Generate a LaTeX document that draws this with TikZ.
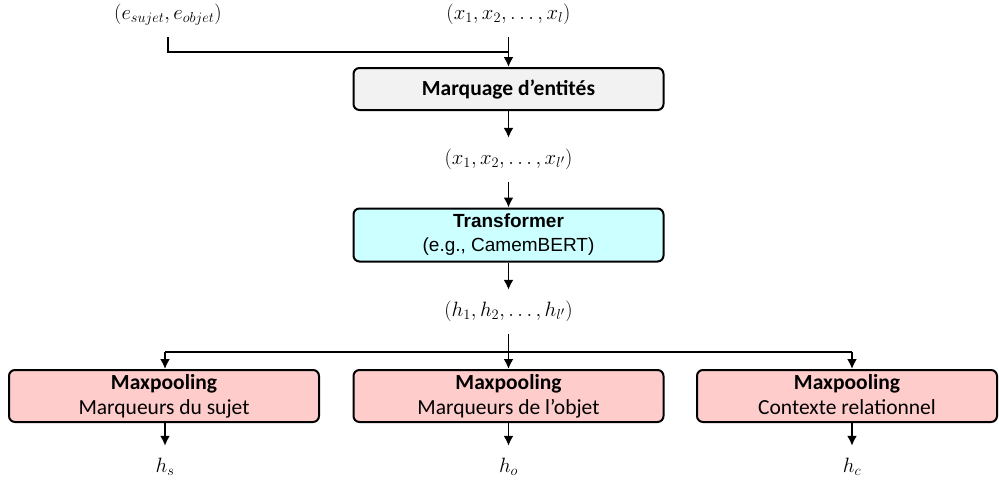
\documentclass[tikz,border=0pt]{standalone}
\usepackage{fontspec}
\setsansfont{Liberation Sans}
\newfontfamily\narrowfont{Carlito}
\usetikzlibrary{arrows.meta}

\definecolor{markgray}{HTML}{F2F2F2}
\definecolor{encblue}{HTML}{CCFFFF}
\definecolor{poolpink}{HTML}{FFCCCC}

\begin{document}
\begin{tikzpicture}[x=1pt, y=-1pt,
    box/.style = {draw=black, line width=2pt, rounded corners=6pt,
      minimum width=310pt, minimum height=42pt, align=center, inner sep=0pt},
    pool/.style = {box, fill=poolpink, minimum height=52pt,
      font=\narrowfont\fontsize{21.5}{25}\selectfont},
    seq/.style = {inner xsep=0pt, inner ysep=12pt, text height=14pt,
      text depth=6pt, font=\huge},
    link/.style = {line width=1.9pt},
    flow/.style = {link, -{Latex[length=10pt,width=10pt]}}
  ]
  \useasboundingbox (0,0) rectangle (999,483);

  % inputs
  \node[seq] (ents) at (168,15) {$(e_{sujet},e_{objet})$};
  \node[seq] (toks) at (508.5,15) {$(x_1,x_2,\dots,x_l)$};
  \coordinate (join) at (508.5,52);

  % marking and encoder
  \node[box, fill=markgray, font=\narrowfont\bfseries\fontsize{21.5}{24}\selectfont]
    (mark) at (508.5,89) {Marquage d’entités};
  \node[seq] (marked) at (508.5,160) {$(x_1,x_2,\dots,x_{l'})$};
  \node[box, fill=encblue, minimum height=53pt,
    font=\sffamily\fontsize{19}{24}\selectfont]
    (enc) at (508.5,235) {\textbf{Transformer}\\(e.g., CamemBERT)};
  \node[seq] (hid) at (508.5,312) {$(h_1,h_2,\dots,h_{l'})$};
  \coordinate (split) at (508.5,352);

  % pooling heads
  \node[pool] (psub) at (164,396) {\textbf{Maxpooling}\\Marqueurs du sujet};
  \node[pool] (pobj) at (508.5,396) {\textbf{Maxpooling}\\Marqueurs de l’objet};
  \node[pool, minimum width=300pt] (pctx) at (847,396)
    {\textbf{Maxpooling}\\Contexte relationnel\vphantom{j}};

  \node[seq] (hs) at (165,468) {$h_s$};
  \node[seq] (ho) at (508.5,468) {$h_o$};
  \node[seq] (hc) at (852,468) {$h_c$};

  % connectors
  \draw[link] (ents.south) |- (join);
  \draw[flow] (toks.south) -- (mark.north);
  \draw[flow] (mark.south) -- (marked.north);
  \draw[flow] (marked.south) -- (enc.north);
  \draw[flow] (enc.south) -- (hid.north);
  \draw[flow] (hid.south) -- (pobj.north);
  \draw[link] (split -| hs) -- (split -| hc);
  \draw[flow] (split -| hs) -- (hs |- psub.north);
  \draw[flow] (split -| hc) -- (hc |- pctx.north);
  \draw[flow] (hs |- psub.south) -- (hs);
  \draw[flow] (pobj.south) -- (ho);
  \draw[flow] (hc |- pctx.south) -- (hc);
\end{tikzpicture}
\end{document}
